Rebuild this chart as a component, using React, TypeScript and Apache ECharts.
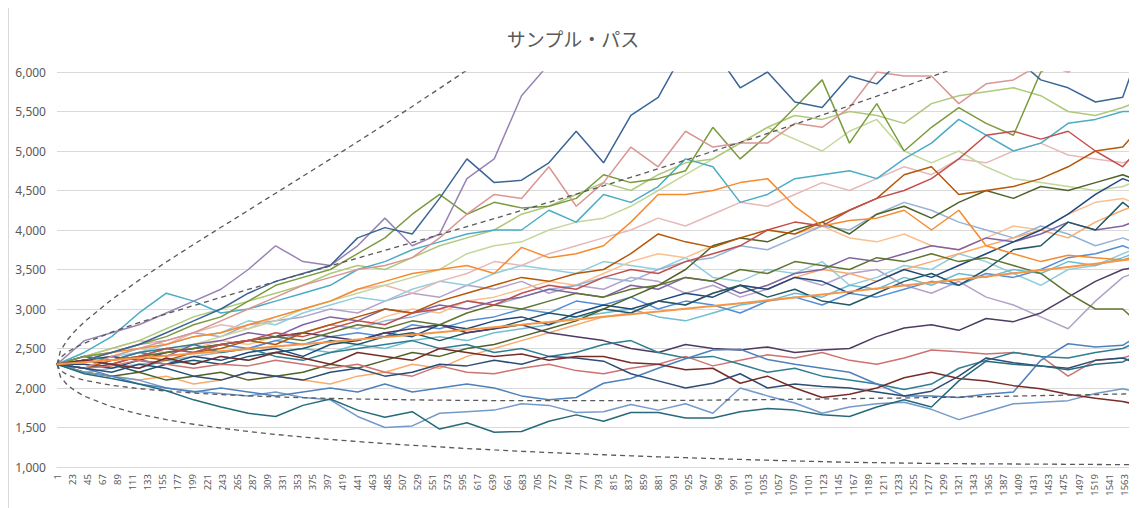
import React, { useEffect, useRef } from "react";
import * as echarts from "echarts";

const N_DAYS = 1576;
const dayLabels = Array.from({ length: N_DAYS }, (_, i) => String(i + 1));

const sampleDays = [
  1, 41, 81, 121, 161, 201, 241, 281, 321, 361,
  401, 441, 481, 521, 561, 601, 641, 681, 721, 761,
  801, 841, 881, 921, 961, 1001, 1041, 1081, 1121, 1161,
  1201, 1241, 1281, 1321, 1361, 1401, 1441, 1481, 1521, 1561,
  1576,
];
// days at which the band / mean curves were read
const bandDays = [1, 6, 16, 26, ...sampleDays.slice(1)];

const pathA = [2300, 2350, 2450, 2550, 2700, 2850, 3000, 3200, 3350, 3450, 3550, 3900, 4030, 3950, 4400, 4900, 4600, 4630, 4850, 5250, 4850, 5450, 5680, 6300, 6300, 5800, 6000, 5620, 5550, 5950, 5850, 6200, 6500, 6400, 6300, 6200, 5900, 5800, 5620, 5680, 6050];
const pathB = [2300, 2600, 2700, 2800, 2950, 3100, 3250, 3500, 3800, 3600, 3550, 3800, 4150, 3800, 3950, 4650, 4900, 5700, 6100, 6600];
const pathC = [2300, 2250, 2400, 2500, 2600, 2700, 2850, 3000, 3150, 3300, 3400, 3500, 3550, 3650, 3900, 4200, 4450, 4400, 4800, 4300, 4600, 5050, 4800, 5250, 5050, 5100, 5100, 5350, 5300, 5550, 6000, 5950, 5950, 5600, 5850, 5900, 6100, 6000, 6200, 6100, 6100];
const pathL1 = [2300, 2180, 2120, 2050, 1965, 1850, 1760, 1680, 1640, 1780, 1860, 1720, 1630, 1700, 1480, 1560, 1440, 1450, 1580, 1660, 1580, 1690, 1690, 1620, 1620, 1700, 1740, 1720, 1660, 1640, 1760, 1850, 1760, 2090, 2340, 2300, 2280, 2230, 2300, 2330, 2390];
const pathL2 = [2300, 2200, 2150, 2100, 2000, 1960, 1930, 1900, 1950, 1880, 1850, 1640, 1500, 1520, 1680, 1700, 1720, 1800, 1780, 1690, 1700, 1790, 1720, 1800, 1680, 2000, 1900, 1810, 1680, 1760, 1800, 1820, 1730, 1600, 1700, 1800, 1820, 1840, 1930, 1990, 1960];
const pathL3 = [2300, 2250, 2150, 2050, 2000, 1950, 2000, 1950, 1900, 1950, 2000, 1950, 2050, 1950, 2000, 2050, 2000, 1900, 1850, 1880, 2060, 2120, 2250, 2370, 2480, 2490, 2360, 2300, 2250, 2200, 2050, 1900, 1900, 1880, 1920, 1950, 2350, 2560, 2520, 2540, 2620];
const pathL4 = [2300, 2350, 2300, 2250, 2380, 2300, 2400, 2350, 2450, 2380, 2300, 2450, 2400, 2350, 2500, 2450, 2400, 2430, 2350, 2400, 2400, 2320, 2300, 2230, 2250, 2060, 2150, 2000, 1880, 1920, 2000, 2130, 2200, 2120, 2090, 2030, 1990, 1920, 1870, 1830, 1800];
const pathL5 = [2300, 2250, 2200, 2300, 2250, 2150, 2100, 2200, 2150, 2100, 2200, 2250, 2150, 2200, 2300, 2280, 2350, 2300, 2400, 2380, 2340, 2180, 2090, 2000, 2060, 2180, 2000, 2050, 2020, 2000, 1950, 1900, 1960, 2150, 2380, 2320, 2280, 2250, 2350, 2380, 2330];
const pathL6 = [2300, 2250, 2280, 2350, 2300, 2250, 2300, 2280, 2350, 2300, 2250, 2300, 2200, 2150, 2280, 2200, 2180, 2250, 2300, 2220, 2180, 2250, 2300, 2400, 2280, 2350, 2420, 2380, 2450, 2350, 2300, 2380, 2480, 2460, 2430, 2450, 2400, 2150, 2350, 2380, 2420];
const pathL7 = [2300, 2400, 2350, 2450, 2500, 2550, 2450, 2500, 2400, 2350, 2450, 2500, 2550, 2600, 2500, 2550, 2450, 2500, 2400, 2450, 2550, 2600, 2450, 2380, 2400, 2300, 2200, 2250, 2150, 2100, 2050, 1980, 2050, 2250, 2350, 2450, 2400, 2380, 2450, 2500, 2560];
const pathDP = [2300, 2350, 2400, 2350, 2450, 2500, 2550, 2600, 2650, 2700, 2650, 2600, 2700, 2750, 2800, 2700, 2750, 2800, 2700, 2650, 2600, 2500, 2450, 2550, 2500, 2480, 2520, 2450, 2480, 2500, 2650, 2760, 2800, 2730, 2880, 2840, 2950, 3150, 3350, 3500, 3520];
const pathOL = [2300, 2350, 2300, 2400, 2450, 2500, 2550, 2600, 2650, 2600, 2700, 2800, 2750, 2850, 2800, 2950, 3050, 3000, 3100, 3200, 3150, 3250, 3300, 3400, 3350, 3500, 3450, 3600, 3550, 3500, 3650, 3600, 3700, 3600, 3650, 3550, 3450, 3200, 3000, 3000, 2880];
const pathOR = [2300, 2350, 2450, 2500, 2550, 2650, 2700, 2800, 2900, 3000, 3100, 3250, 3350, 3450, 3500, 3550, 3450, 3780, 3650, 3700, 3800, 4100, 4450, 4450, 4500, 4600, 4650, 4300, 4050, 4120, 4150, 4250, 4000, 4250, 3800, 3700, 3600, 3680, 3650, 3620, 3660];
const pathAQ = [2300, 2450, 2650, 2950, 3200, 3100, 2950, 3000, 3100, 3200, 3300, 3500, 3600, 3750, 3850, 3950, 4000, 4000, 4250, 4100, 4450, 4350, 4550, 4900, 4800, 4350, 4450, 4650, 4700, 4750, 4650, 4900, 5100, 5400, 5200, 5000, 5100, 5350, 5400, 5500, 5500];
const pathLG1 = [2300, 2400, 2500, 2600, 2750, 2900, 3000, 3100, 3200, 3300, 3450, 3550, 3500, 3650, 3800, 3900, 4000, 4200, 4300, 4450, 4600, 4500, 4700, 4850, 4900, 5100, 5300, 5450, 5400, 5500, 5450, 5350, 5600, 5700, 5750, 5800, 5700, 5500, 5450, 5550, 5600];
const pathLG2 = [2300, 2350, 2400, 2500, 2450, 2550, 2650, 2750, 2850, 3000, 3100, 3200, 3300, 3400, 3500, 3700, 3800, 3850, 4000, 4100, 4150, 4300, 4500, 4700, 4900, 5100, 5300, 5150, 5000, 5250, 5400, 5000, 4850, 5000, 4800, 4650, 4600, 4550, 4500, 4550, 4600];
const pathGR = [2300, 2400, 2450, 2550, 2650, 2800, 2900, 3100, 3300, 3400, 3500, 3700, 3900, 4200, 4450, 4200, 4350, 4280, 4300, 4400, 4700, 4600, 4650, 4750, 5300, 4900, 5200, 5550, 5900, 5100, 5600, 5000, 5300, 5550, 5350, 5200, 6000, 6200, 6300, 6200, 6100];
const pathBR = [2300, 2250, 2350, 2400, 2350, 2450, 2500, 2600, 2550, 2700, 2800, 2900, 3000, 2950, 3100, 3200, 3300, 3400, 3350, 3450, 3500, 3700, 3950, 3850, 3780, 3900, 4000, 3950, 4100, 4250, 4400, 4700, 4800, 4450, 4500, 4550, 4650, 4800, 5000, 5050, 5200];
const pathRD = [2300, 2350, 2300, 2400, 2500, 2450, 2550, 2600, 2700, 2650, 2750, 2850, 2800, 2950, 3000, 3100, 3050, 3200, 3300, 3250, 3400, 3500, 3450, 3600, 3700, 3800, 4000, 4100, 4050, 4250, 4400, 4500, 4650, 4900, 5200, 5250, 5150, 5250, 5000, 4800, 4950];
const pathM1 = [2300, 2300, 2250, 2350, 2300, 2400, 2350, 2450, 2500, 2400, 2550, 2600, 2700, 2650, 2800, 2750, 2850, 2900, 2800, 2950, 3050, 3000, 3100, 3200, 3150, 3300, 3250, 3400, 3350, 3200, 3350, 3500, 3400, 3550, 3700, 3850, 4000, 4200, 4450, 4650, 4600];
const pathM2 = [2300, 2250, 2300, 2200, 2300, 2350, 2300, 2400, 2450, 2500, 2600, 2550, 2650, 2700, 2600, 2700, 2750, 2850, 2950, 2900, 3000, 2950, 3100, 3050, 3200, 3300, 3150, 3250, 3100, 3050, 3200, 3350, 3450, 3300, 3500, 3750, 3800, 4100, 4000, 4350, 4250];
const pathM3 = [2300, 2400, 2450, 2550, 2600, 2700, 2650, 2800, 2850, 2900, 3000, 2950, 3100, 3200, 3150, 3300, 3250, 3350, 3200, 3300, 3250, 3400, 3350, 3200, 3300, 3150, 3250, 3400, 3300, 3450, 3500, 3300, 3200, 3350, 3150, 3050, 2900, 2750, 3100, 3400, 3450];
const pathM4 = [2300, 2350, 2400, 2450, 2550, 2650, 2700, 2850, 2800, 2950, 3050, 3150, 3100, 3250, 3350, 3300, 3450, 3550, 3500, 3450, 3600, 3550, 3500, 3650, 3400, 3350, 3500, 3450, 3600, 3300, 3400, 3550, 3500, 3700, 3600, 3450, 3300, 3500, 3550, 3700, 3750];
const pathM5 = [2300, 2350, 2300, 2400, 2450, 2500, 2600, 2550, 2650, 2700, 2800, 2750, 2900, 3000, 2950, 3100, 3150, 3250, 3350, 3300, 3450, 3600, 3700, 3650, 3800, 3900, 4000, 3950, 4050, 3900, 3850, 3950, 3800, 3750, 3900, 4050, 4000, 4200, 4350, 4400, 4350];
const pathM6 = [2300, 2400, 2350, 2450, 2400, 2550, 2600, 2700, 2650, 2800, 2900, 2850, 3000, 2950, 3050, 3000, 3100, 3150, 3250, 3200, 3150, 3300, 3250, 3400, 3350, 3200, 3300, 3450, 3500, 3650, 3600, 3700, 3800, 3750, 3900, 3850, 3950, 4100, 4000, 4050, 4100];
const pathM7 = [2300, 2250, 2350, 2400, 2500, 2450, 2550, 2500, 2600, 2550, 2650, 2700, 2650, 2800, 2750, 2850, 2900, 3000, 2950, 3100, 3050, 3150, 3000, 3100, 3050, 2950, 3100, 3150, 3050, 3200, 3150, 3250, 3350, 3300, 3450, 3400, 3500, 3650, 3700, 3800, 3750];
const pathM8 = [2300, 2200, 2150, 2200, 2100, 2150, 2200, 2100, 2150, 2200, 2300, 2250, 2350, 2450, 2400, 2500, 2550, 2650, 2750, 2850, 3000, 3150, 3300, 3500, 3800, 3900, 3850, 4000, 4100, 3950, 4200, 4300, 4150, 4350, 4500, 4400, 4550, 4500, 4600, 4700, 4650];
const pathM9 = [2300, 2200, 2250, 2300, 2350, 2400, 2450, 2500, 2600, 2700, 2800, 2750, 2850, 2900, 3000, 3100, 3050, 3150, 3250, 3300, 3400, 3350, 3500, 3600, 3650, 3800, 3750, 3900, 4050, 4000, 4200, 4350, 4250, 4100, 4000, 3900, 4050, 3950, 3800, 3900, 3850];
const pathM10 = [2300, 2400, 2500, 2600, 2550, 2700, 2800, 2750, 2900, 3000, 3100, 3250, 3300, 3200, 3350, 3450, 3600, 3550, 3700, 3800, 3900, 4000, 4150, 4050, 4200, 4350, 4300, 4450, 4600, 4500, 4650, 4800, 4700, 4900, 4850, 5000, 5100, 4950, 4900, 4850, 4900];
const pathM11 = [2300, 2200, 2150, 2100, 2150, 2050, 2100, 2200, 2150, 2100, 2050, 2150, 2200, 2300, 2250, 2400, 2500, 2600, 2700, 2800, 2900, 2950, 3100, 3050, 3200, 3300, 3250, 3400, 3500, 3450, 3350, 3500, 3600, 3700, 3800, 3900, 4000, 3900, 4100, 4250, 4300];
const pathM12 = [2300, 2350, 2300, 2250, 2350, 2300, 2400, 2350, 2450, 2500, 2450, 2550, 2500, 2600, 2650, 2600, 2700, 2750, 2800, 2900, 2950, 3000, 2900, 2850, 2950, 3050, 3100, 3200, 3150, 3300, 3250, 3400, 3300, 3450, 3400, 3500, 3450, 3600, 3550, 3650, 3700];

// band curves (dashed) and expected path (solid orange), read at bandDays
const upperOuter = [2300, 2469, 2607, 2709, 2837, 3119, 3365, 3595, 3817, 4034, 4249, 4465, 4681, 4897, 5117, 5338, 5564, 5792, 6024, 6260, 6500];
const upperInner = [2300, 2384, 2453, 2504, 2567, 2707, 2827, 2938, 3044, 3147, 3248, 3347, 3446, 3545, 3644, 3742, 3842, 3942, 4043, 4144, 4247, 4350, 4455, 4560, 4667, 4775, 4885, 4996, 5108, 5222, 5338, 5455, 5573, 5694, 5816, 5940, 6066, 6193];
const lowerInner = [2300, 2220, 2168, 2135, 2098, 2034, 1992, 1961, 1937, 1917, 1901, 1888, 1877, 1868, 1861, 1855, 1850, 1846, 1843, 1841, 1840, 1839, 1839, 1840, 1841, 1842, 1844, 1847, 1850, 1853, 1857, 1861, 1865, 1870, 1874, 1880, 1885, 1891, 1897, 1904, 1910, 1917, 1924, 1927];
const lowerOuter = [2300, 2143, 2039, 1972, 1897, 1763, 1671, 1600, 1541, 1492, 1450, 1412, 1379, 1349, 1322, 1297, 1274, 1254, 1234, 1216, 1199, 1183, 1169, 1155, 1142, 1129, 1118, 1107, 1096, 1086, 1077, 1068, 1059, 1055, 1050, 1045, 1042, 1040, 1038, 1036, 1034, 1032, 1030, 1030];
const meanPath = [2300, 2303, 2310, 2317, 2327, 2354, 2381, 2409, 2437, 2466, 2495, 2524, 2553, 2583, 2613, 2644, 2675, 2706, 2737, 2769, 2802, 2834, 2867, 2901, 2935, 2969, 3004, 3039, 3074, 3110, 3146, 3183, 3220, 3258, 3296, 3334, 3373, 3412, 3452, 3492, 3533, 3574, 3616, 3632];

const yTicks = { min: 1000, max: 6000, step: 500 };

const paths = [
  pathM3, pathM4, pathM5, pathM9, pathM10, pathM11, pathM12, pathLG2, pathLG1,
  pathM6, pathM7, pathM1, pathM2, pathM8, pathDP, pathOL, pathL6, pathL7,
  pathAQ, pathGR, pathBR, pathRD, pathOR, pathC, pathB, pathA,
  pathL2, pathL3, pathL5, pathL4, pathL1,
];
const pathColors = [
  "#B3A2C7", "#93CDDD", "#FAC090", "#95B3D7", "#E6B9B8", "#F9AB6B", "#6FBDD1", "#C4D79B", "#AFC97A",
  "#8064A2", "#558ED5", "#1F497D", "#215968", "#4F6228", "#4D3B62", "#5F7530", "#CD7371", "#2F7E93",
  "#4BACC6", "#7B9A3E", "#B65708", "#C0504D", "#F68B2E", "#D99694", "#9983B5", "#3A6595",
  "#729ACA", "#4F81BD", "#2C4D75", "#772C2A", "#276A7C",
];

function toData(days: number[], vals: (number | null)[]) {
  const out: [number, number][] = [];
  vals.forEach((v, i) => {
    if (v != null && i < days.length) out.push([days[i] - 1, v]);
  });
  return out;
}

export default function App() {
  const ref = useRef<HTMLDivElement>(null);
  useEffect(() => {
    if (!ref.current) return;
    const chart = echarts.init(ref.current, undefined, { renderer: "svg" });
    const series: any[] = paths.map((vals, i) => ({
      name: "パス" + (i + 1),
      type: "line",
      data: toData(sampleDays, vals),
      showSymbol: false,
      symbol: "none",
      silent: true,
      lineStyle: { width: 1.5, color: pathColors[i] },
      itemStyle: { color: pathColors[i] },
    }));
    const bandStyle = { width: 1.3, color: "#595959", type: [5, 4] };
    [upperOuter, upperInner, lowerInner, lowerOuter].forEach((vals, i) => {
      series.push({
        name: "バンド" + (i + 1),
        type: "line",
        data: toData(bandDays, vals),
        showSymbol: false,
        symbol: "none",
        silent: true,
        lineStyle: bandStyle,
        itemStyle: { color: "#595959" },
      });
    });
    series.push({
      name: "期待値",
      type: "line",
      data: toData(bandDays, meanPath),
      showSymbol: false,
      symbol: "none",
      silent: true,
      lineStyle: { width: 2, color: "#F79646" },
      itemStyle: { color: "#F79646" },
    });
    chart.setOption({
      animation: false,
      backgroundColor: "#ffffff",
      title: {
        text: "サンプル・パス",
        left: "center",
        top: 16,
        textStyle: {
          fontSize: 19,
          fontWeight: "normal",
          color: "#595959",
          fontFamily: '"Noto Sans CJK JP", sans-serif',
        },
      },
      grid: { left: 48, right: 4, top: 64, bottom: 41, containLabel: false },
      xAxis: {
        type: "category",
        data: dayLabels,
        boundaryGap: false,
        axisLine: { show: true, lineStyle: { color: "#D9D9D9", width: 1 } },
        axisTick: { show: false },
        axisLabel: {
          interval: 21,
          rotate: 90,
          fontSize: 9.5,
          margin: 7,
          color: "#595959",
          fontFamily: '"Noto Sans", sans-serif',
        },
        splitLine: { show: false },
      },
      yAxis: {
        type: "value",
        min: yTicks.min,
        max: yTicks.max,
        interval: yTicks.step,
        axisLine: { show: false },
        axisTick: { show: false },
        axisLabel: {
          fontSize: 12,
          margin: 11,
          color: "#595959",
          fontFamily: '"Noto Sans", sans-serif',
          formatter: (v: number) => v.toLocaleString("en-US"),
        },
        splitLine: { show: true, lineStyle: { color: "#D9D9D9", width: 1 } },
      },
      series,
    });
    return () => chart.dispose();
  }, []);
  return (
    <div style={{ width: 1129, height: 500, borderLeft: "1px solid #D9D9D9", boxSizing: "border-box" }}>
      <div ref={ref} style={{ width: 1128, height: 500 }} />
    </div>
  );
}
